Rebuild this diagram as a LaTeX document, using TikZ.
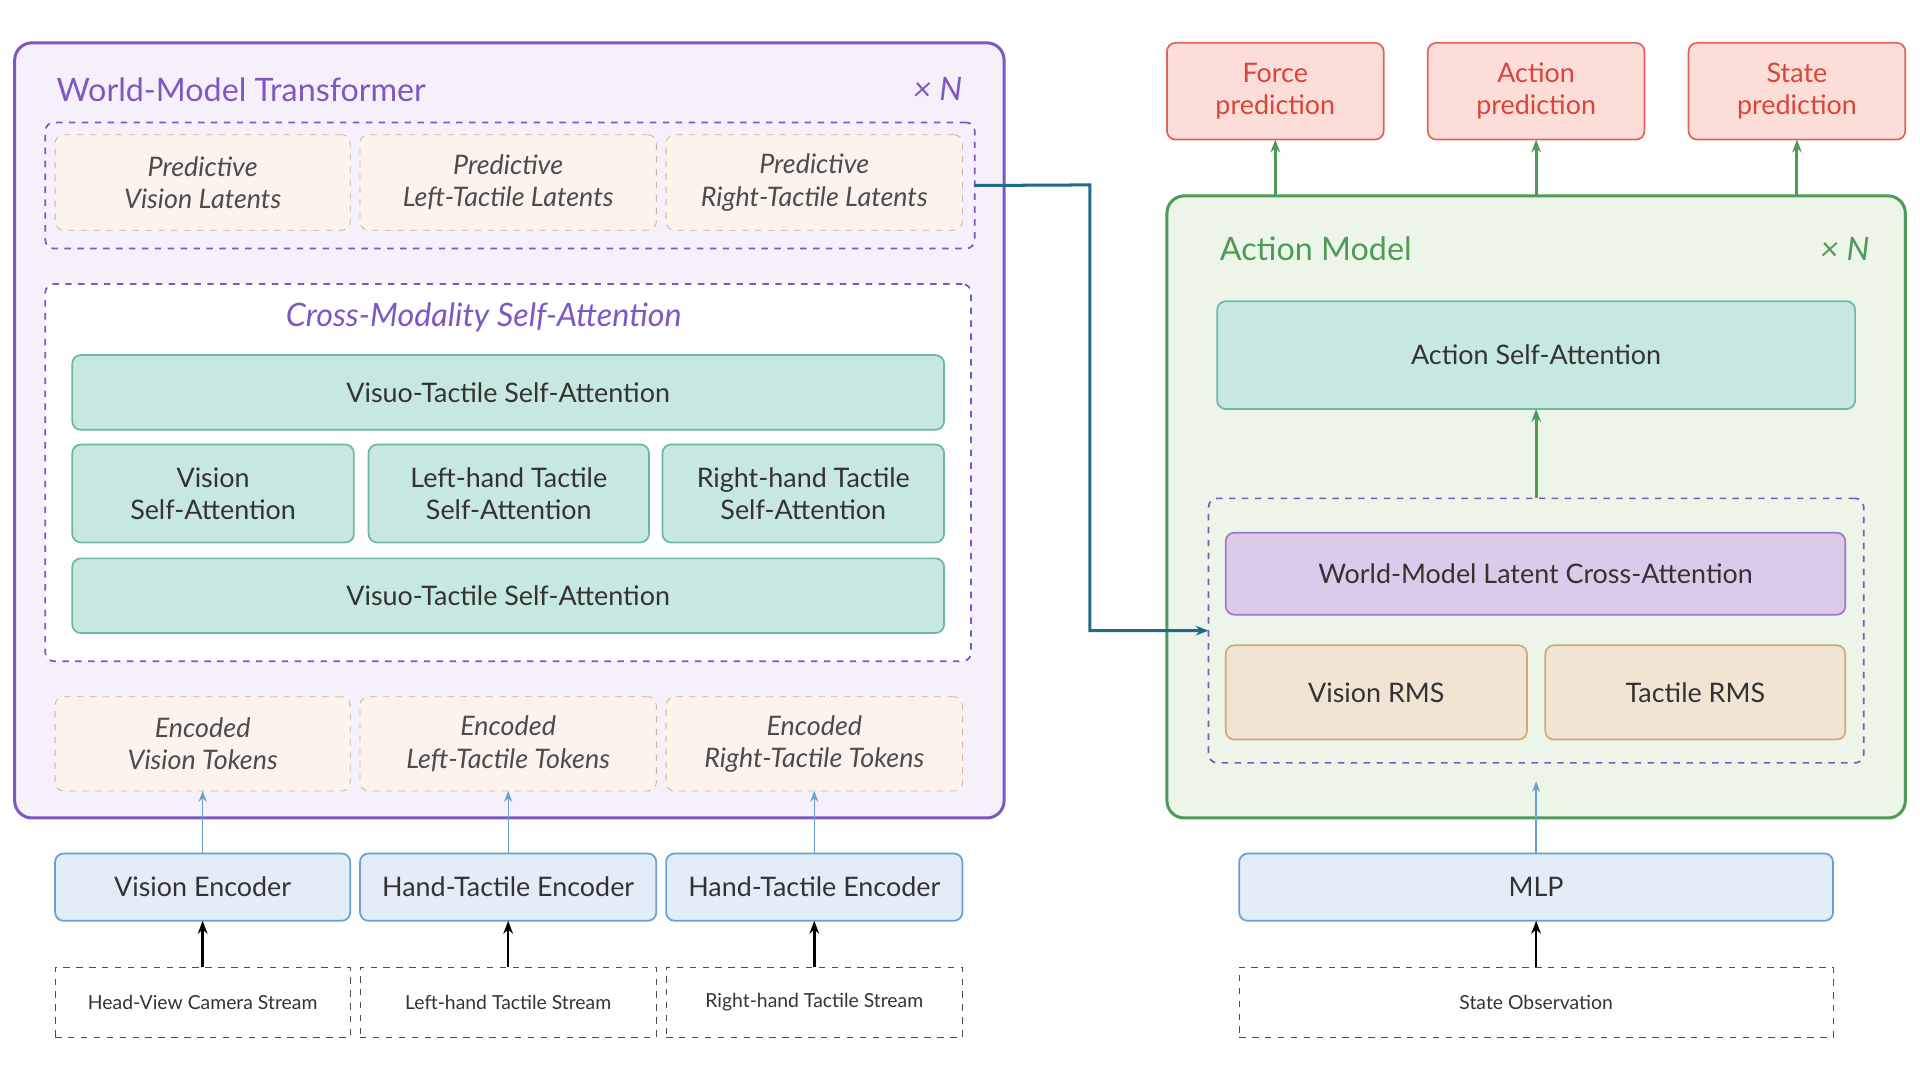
\documentclass[tikz,border=0pt]{standalone}
\usepackage{fontspec}
\setmainfont{Lato}
\usetikzlibrary{positioning,arrows.meta}
\definecolor{wmpurple}{HTML}{7E57C2}
\definecolor{wmfill}{HTML}{F6F0FB}
\definecolor{amgreen}{HTML}{4E9A57}
\definecolor{amfill}{HTML}{EDF4E8}
\definecolor{tealfill}{HTML}{C7E8E0}
\definecolor{tealline}{HTML}{6DB7A5}
\definecolor{latfill}{HTML}{FCF4EC}
\definecolor{latline}{HTML}{CFB49A}
\definecolor{encfill}{HTML}{E3EDF8}
\definecolor{encline}{HTML}{6A9FD4}
\definecolor{crossfill}{HTML}{DCCAEB}
\definecolor{crossline}{HTML}{9C7BC9}
\definecolor{rmsfill}{HTML}{F2E4D4}
\definecolor{rmsline}{HTML}{D0AA7E}
\definecolor{predfill}{HTML}{FDDDD8}
\definecolor{predline}{HTML}{E0645A}
\definecolor{predtext}{HTML}{D9453A}
\definecolor{linkblue}{HTML}{1F6A8A}
\newcommand{\boxnode}[7]{\node[#2,minimum width={(#5-#3)*0.02cm},minimum height={(#6-#4)*0.02cm}] (#1) at ({(#3+#5)/2},{(#4+#6)/2}) {#7};}
\tikzset{
  box/.style={draw,rounded corners=4pt,inner sep=0pt,outer sep=0pt,align=center,font=\fontsize{12.5}{15}\selectfont,text=black!80},
  outer/.style={box,line width=1.4pt,rounded corners=8pt},
  wrap/.style={box,dashed,line width=0.8pt,draw=wmpurple},
  latent/.style={box,dashed,draw=latline,fill=latfill,font=\fontsize{12.5}{15}\selectfont\itshape,text=black!70},
  attn/.style={box,draw=tealline,fill=tealfill,line width=0.8pt},
  enc/.style={box,draw=encline,fill=encfill,line width=0.8pt},
  stream/.style={box,dashed,draw=black!70,rounded corners=0pt,font=\fontsize{9}{11}\selectfont},
  pred/.style={box,draw=predline,fill=predfill,line width=0.8pt,text=predtext},
  up/.style={-{Stealth[length=6pt]},line width=1pt},
}
\begin{document}
\begin{tikzpicture}[x=0.02cm,y=-0.02cm]
\useasboundingbox (0,0) rectangle (1568,882);
% world model
\boxnode{wm}{outer,draw=wmpurple,fill=wmfill}{12}{35}{820}{668}{}
\node[anchor=west,text=wmpurple,font=\fontsize{15}{18}\selectfont] (wmtitle) at (40,73) {World-Model Transformer};
\node[anchor=east,text=wmpurple,font=\fontsize{15}{18}\selectfont\itshape] (wmn) at (792,73) {× N};
\boxnode{latwrap}{wrap}{37}{100}{796}{203}{}
\boxnode{lat1}{latent}{45}{110}{286}{188}{Predictive\\Vision Latents}
\boxnode{lat2}{latent}{294}{110}{536}{188}{Predictive\\Left-Tactile Latents}
\boxnode{lat3}{latent}{544}{110}{786}{188}{Predictive\\Right-Tactile Latents}
\boxnode{cross}{wrap,fill=white}{37}{232}{793}{540}{}
\node[text=wmpurple,font=\fontsize{15}{18}\selectfont\itshape] (crosstitle) at (395,259) {Cross-Modality Self-Attention};
\boxnode{vt1}{attn}{59}{290}{771}{351}{Visuo-Tactile Self-Attention}
\boxnode{vsa}{attn}{59}{363}{289}{443}{Vision\\Self-Attention}
\boxnode{lsa}{attn}{301}{363}{530}{443}{Left-hand Tactile\\Self-Attention}
\boxnode{rsa}{attn}{541}{363}{771}{443}{Right-hand Tactile\\Self-Attention}
\boxnode{vt2}{attn}{59}{456}{771}{517}{Visuo-Tactile Self-Attention}
\boxnode{tok1}{latent}{45}{569}{286}{646}{Encoded\\Vision Tokens}
\boxnode{tok2}{latent}{294}{569}{536}{646}{Encoded\\Left-Tactile Tokens}
\boxnode{tok3}{latent}{544}{569}{786}{646}{Encoded\\Right-Tactile Tokens}
\boxnode{enc1}{enc}{45}{697}{286}{752}{Vision Encoder}
\boxnode{enc2}{enc}{294}{697}{536}{752}{Hand-Tactile Encoder}
\boxnode{enc3}{enc}{544}{697}{786}{752}{Hand-Tactile Encoder}
\boxnode{str1}{stream}{45}{790}{286}{847}{Head-View Camera Stream}
\boxnode{str2}{stream}{294}{790}{536}{847}{Left-hand Tactile Stream}
\boxnode{str3}{stream}{544}{790}{786}{847}{Right-hand Tactile Stream}
\foreach \i in {1,2,3} {
  \draw[up,line width=0.6pt,draw=encline,-{Stealth[length=5pt]}] (enc\i) -- (tok\i);
  \draw[up,line width=1.2pt] (str\i) -- (enc\i);
}
% action model
\boxnode{am}{outer,draw=amgreen,fill=amfill}{953}{160}{1556}{668}{}
\node[anchor=west,text=amgreen,font=\fontsize{15}{18}\selectfont] (amtitle) at (990,203) {Action Model};
\node[anchor=east,text=amgreen,font=\fontsize{15}{18}\selectfont\itshape] (amn) at (1533,203) {× N};
\boxnode{asa}{attn}{994}{246}{1515}{334}{Action Self-Attention}
\boxnode{condwrap}{wrap}{987}{407}{1522}{623}{}
\boxnode{wmca}{box,draw=crossline,fill=crossfill,line width=0.8pt}{1001}{435}{1507}{502}{World-Model Latent Cross-Attention}
\boxnode{vrms}{box,draw=rmsline,fill=rmsfill,line width=0.8pt}{1001}{527}{1247}{604}{Vision RMS}
\boxnode{trms}{box,draw=rmsline,fill=rmsfill,line width=0.8pt}{1262}{527}{1507}{604}{Tactile RMS}
\boxnode{mlp}{enc}{1012}{697}{1497}{752}{MLP}
\boxnode{state}{stream}{1012}{790}{1497}{847}{State Observation}
\boxnode{force}{pred}{953}{35}{1130}{114}{Force\\prediction}
\boxnode{action}{pred}{1166}{35}{1343}{114}{Action\\prediction}
\boxnode{stpred}{pred}{1379}{35}{1556}{114}{State\\prediction}
\foreach \p in {force,action,stpred}
  \draw[up,draw=amgreen,line width=1.4pt] (am.north -| \p.south) -- (\p.south);
\draw[up,draw=amgreen,line width=1.4pt] (condwrap.north) -- (asa.south);
\draw[up,line width=0.6pt,draw=encline,-{Stealth[length=5pt]}] (mlp.north) -- ([yshift=-0.3cm]condwrap.south);
\draw[up,line width=1.2pt] (state) -- (mlp);
\coordinate (bend) at (890,151);
\draw[up,draw=linkblue,line width=1.4pt] (latwrap.east) -- (bend) |- (condwrap.west |- 0,515);
\end{tikzpicture}
\end{document}
